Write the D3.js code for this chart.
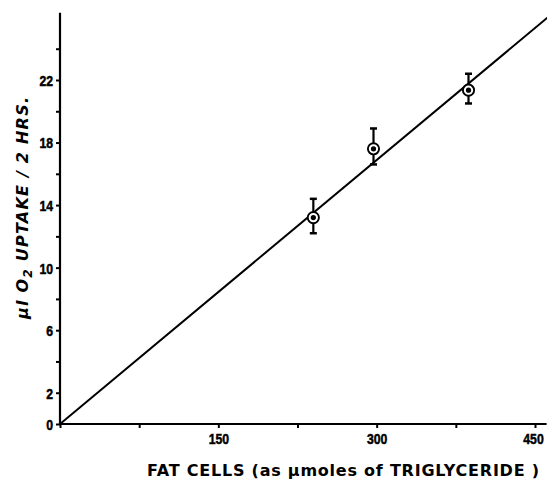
<!DOCTYPE html>
<html><head><meta charset="utf-8">
<script src="https://cdn.jsdelivr.net/npm/d3@7"></script>
<style>
html,body{margin:0;padding:0;background:#fff;}
svg{display:block;}
.tick text{font-family:"Liberation Sans",Arial,sans-serif;font-weight:bold;font-size:15px;fill:#000;stroke:#000;stroke-width:0.5px;}
</style></head>
<body><svg id="c" width="547" height="482"></svg>
<script>
// Data
const fatCells = [240, 297, 387];          // µmoles triglyceride
const o2Uptake = [13.2, 17.6, 21.35];       // µl O2 / 2 hrs
const errLow  = [12.2, 16.6, 20.5];
const errHigh = [14.4, 18.9, 22.4];
const fitLine = [[0, 0], [462, 26]];
const xTicks = [0, 75, 150, 225, 300, 375, 450];
const xTickLabels = ["", "", "150", "", "300", "", "450"];
const yTicks = [0,2,4,6,8,10,12,14,16,18,20,22,24];
const yTickLabels = {0:"0",2:"2",6:"6",10:"10",14:"14",18:"18",22:"22"};

const svg = d3.select("#c");
const x = d3.scaleLinear().domain([0, 450]).range([60, 535]);
const y = d3.scaleLinear().domain([0, 22]).range([424, 80]);

svg.append("clipPath").attr("id","clip").append("rect")
  .attr("x", 60).attr("y", 0).attr("width", 487).attr("height", 425);

function narrow(sel){
  sel.each(function(){
    const t = d3.select(this); const s = t.text();
    if (s.length) t.attr("textLength", s.length*6.8).attr("lengthAdjust","spacingAndGlyphs");
  });
}

// X axis
const xAxis = d3.axisBottom(x).tickValues(xTicks)
  .tickFormat((d,i)=>xTickLabels[i]).tickSize(4).tickSizeOuter(0).tickPadding(5);
const gx = svg.append("g").attr("transform","translate(0,424)").call(xAxis);
gx.select(".domain").remove();
gx.selectAll(".tick line").attr("stroke","#000").attr("stroke-width",2);
gx.selectAll(".tick text").call(narrow).attr("dx", (d)=> d===450 ? -2 : 0);
svg.append("line").attr("x1", x(0)).attr("x2", x(461)).attr("y1",424).attr("y2",424)
  .attr("stroke","#000").attr("stroke-width",2.2);

// Y axis
const yAxis = d3.axisLeft(y).tickValues(yTicks)
  .tickFormat(d=>yTickLabels[d]||"").tickSize(4).tickSizeOuter(0).tickPadding(3);
const gy = svg.append("g").attr("transform","translate(60,0)").call(yAxis);
gy.select(".domain").remove();
gy.selectAll(".tick line").attr("stroke","#000").attr("stroke-width",2);
gy.selectAll(".tick text").attr("dy","0.36em").call(narrow);
svg.append("line").attr("x1",60).attr("x2",60).attr("y1",y(0)+1).attr("y2",y(26.3))
  .attr("stroke","#000").attr("stroke-width",2.2);

// fitted line
svg.append("path").datum(fitLine).attr("clip-path","url(#clip)")
  .attr("d", d3.line().x(d=>x(d[0])).y(d=>y(d[1])))
  .attr("stroke","#000").attr("stroke-width",2).attr("fill","none");

// error bars
const pts = fatCells.map((v,i)=>({x:v, y:o2Uptake[i], lo:errLow[i], hi:errHigh[i]}));
const g = svg.append("g");
g.selectAll(".eb").data(pts).join("line")
  .attr("x1",d=>x(d.x)).attr("x2",d=>x(d.x)).attr("y1",d=>y(d.lo)).attr("y2",d=>y(d.hi))
  .attr("stroke","#000").attr("stroke-width",2.2);
g.selectAll(".capH").data(pts).join("line")
  .attr("x1",d=>x(d.x)-3.5).attr("x2",d=>x(d.x)+3.5).attr("y1",d=>y(d.hi)).attr("y2",d=>y(d.hi))
  .attr("stroke","#000").attr("stroke-width",2.5);
g.selectAll(".capL").data(pts).join("line")
  .attr("x1",d=>x(d.x)-3.5).attr("x2",d=>x(d.x)+3.5).attr("y1",d=>y(d.lo)).attr("y2",d=>y(d.lo))
  .attr("stroke","#000").attr("stroke-width",2.5);
g.selectAll(".ring").data(pts).join("circle")
  .attr("cx",d=>x(d.x)).attr("cy",d=>y(d.y)).attr("r",5.6)
  .attr("fill","#fff").attr("stroke","#000").attr("stroke-width",1.9);
g.selectAll(".dot").data(pts).join("circle")
  .attr("cx",d=>x(d.x)).attr("cy",d=>y(d.y)).attr("r",2.6).attr("fill","#000");

// axis titles
svg.append("text").attr("x", 343).attr("y", 476).attr("text-anchor","middle")
  .attr("font-family","DejaVu Sans, sans-serif").attr("font-weight","bold").attr("font-size",16)
  .attr("textLength",392).attr("lengthAdjust","spacing")
  .text("FAT CELLS  (as µmoles of TRIGLYCERIDE )");

const yt = svg.append("text").attr("transform","translate(28,208) rotate(-90)")
  .attr("text-anchor","middle")
  .attr("font-family","DejaVu Sans, sans-serif").attr("font-weight","bold")
  .attr("font-style","italic").attr("font-size",16)
  .attr("textLength",222).attr("lengthAdjust","spacing");
yt.append("tspan").text("µl O");
yt.append("tspan").attr("font-size",12).attr("dy",4).text("2");
yt.append("tspan").attr("dy",-4).text("  UPTAKE / 2 HRS.");
</script></body></html>
